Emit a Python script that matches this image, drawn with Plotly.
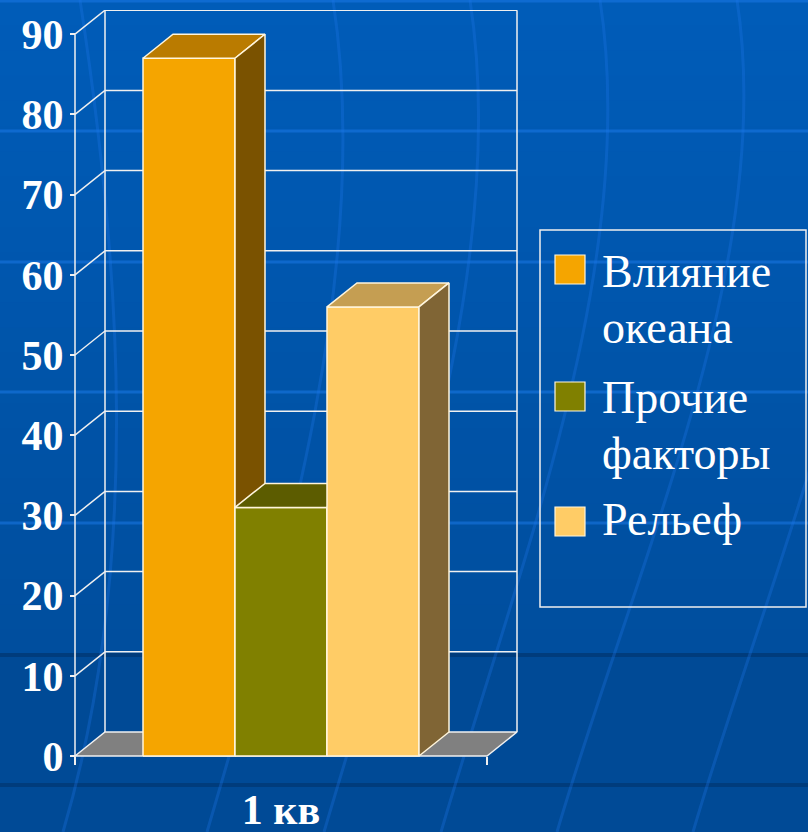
import plotly.graph_objects as go

# ---------------- data ----------------
categories = ["1 кв"]
series_names = ["Влияние океана", "Прочие факторы", "Рельеф"]
legend_labels = ["Влияние<br>океана", "Прочие<br>факторы", "Рельеф"]
values = [87, 31, 56]
y_ticks = [0, 10, 20, 30, 40, 50, 60, 70, 80, 90]
y_tick_labels = [str(v) for v in y_ticks]

front_colors = ["#F5A500", "#808000", "#FFCC66"]
top_colors = ["#BA7B00", "#5C5C00", "#C59E52"]
side_colors = ["#7A5200", "#404000", "#806535"]

# ---------------- layout geometry (style) ----------------
FIG_W, FIG_H = 808, 832
L, T, PW, PH = 68, 10, 450, 752
PX_X = 412.0          # pixels per x unit (front plane width)
PX_Y = 8.02           # pixels per value unit
X0_PX, Y0_PX = 75, 756
DX = 30 / PX_X        # oblique depth (x units)
DY = 24 / PX_Y        # oblique depth (value units)
BAR_W = 92 / PX_X
xr = [-(X0_PX - L) / PX_X, -(X0_PX - L) / PX_X + PW / PX_X]
yb = -(T + PH - Y0_PX) / PX_Y
yr = [yb, yb + PH / PX_Y]

EDGE = "#FFF5DC"
WALL = "#F0F0F0"
FONT = "Liberation Serif, Times New Roman, serif"


def px2paper(px, py):
    return (px - L) / PW, 1 - (py - T) / PH


fig = go.Figure()


def poly(xs, ys, fill, line_color, width=1.5):
    fig.add_trace(go.Scatter(
        x=xs + [xs[0]], y=ys + [ys[0]], mode="lines", fill="toself",
        fillcolor=fill, line=dict(color=line_color, width=width),
        hoverinfo="skip", showlegend=False))


top_v = max(y_ticks)

# floor
poly([0, 1, 1 + DX, DX], [0, 0, DY, DY], "#808080", WALL)

# back wall + gridlines
gx, gy = [], []
for v in y_ticks[1:]:
    gx += [DX, 1 + DX, None]
    gy += [v + DY, v + DY, None]
gx += [DX, DX, None, 1 + DX, 1 + DX, None]
gy += [DY, top_v + DY, None, DY, top_v + DY, None]
# left wall diagonals and front axis line
for v in y_ticks[1:]:
    gx += [0, DX, None]
    gy += [v, v + DY, None]
gx += [0, 0, None]
gy += [yb, top_v, None]
fig.add_trace(go.Scatter(x=gx, y=gy, mode="lines",
                         line=dict(color=WALL, width=1.5),
                         hoverinfo="skip", showlegend=False))

# bars (painter order, left to right)
n = len(series_names)
for i, (name, v) in enumerate(zip(series_names, values)):
    x0 = 0.5 + (i - n / 2) * BAR_W
    x1 = x0 + BAR_W
    poly([x0, x1, x1, x0], [0, 0, v, v], front_colors[i], EDGE)
    poly([x0, x1, x1 + DX, x0 + DX], [v, v, v + DY, v + DY], top_colors[i], EDGE)
    poly([x1, x1 + DX, x1 + DX, x1], [0, DY, v + DY, v], side_colors[i], EDGE)

# ---------------- background decoration ----------------
shapes = []
c_top = (0, 92, 184)
c_mid = (0, 78, 158)
c_bot = (0, 74, 150)
nb = 26
for k in range(nb):
    f = k / (nb - 1)
    c = tuple(round(a + (b - a) * f) for a, b in zip(c_top, c_mid))
    y0p = 655 * k / nb
    y1p = 655 * (k + 1) / nb + 1
    xa, ya = px2paper(0, y0p)
    xb, yb2 = px2paper(FIG_W, y1p)
    shapes.append(dict(type="rect", xref="paper", yref="paper", x0=xa, x1=xb,
                       y0=yb2, y1=ya, fillcolor="rgb(%d,%d,%d)" % c,
                       line=dict(width=0), layer="below"))
xa, ya = px2paper(0, 655)
xb, yb2 = px2paper(FIG_W, FIG_H)
shapes.append(dict(type="rect", xref="paper", yref="paper", x0=xa, x1=xb,
                   y0=yb2, y1=ya, fillcolor="rgb(%d,%d,%d)" % c_bot,
                   line=dict(width=0), layer="below"))


def hline(py, color, w):
    xa, ya = px2paper(0, py)
    xb, _ = px2paper(FIG_W, py)
    shapes.append(dict(type="line", xref="paper", yref="paper", x0=xa, x1=xb,
                       y0=ya, y1=ya, line=dict(color=color, width=w),
                       layer="below"))


for py in [1, 131, 262, 392, 523]:
    hline(py, "rgba(25,120,230,0.55)", 3)
for py in [655, 785]:
    hline(py, "#003C7C", 4)

curve_tops = [80, 333, 470, 600, 737, 870]
curve_bots = [63, 207, 324, 441, 557, 693]
for xt, xbt in zip(curve_tops, curve_bots):
    pts = [(xt, 0), (xt + 40, 260), (xbt + 80, 560), (xbt, FIG_H)]
    pp = [px2paper(a, b) for a, b in pts]
    path = "M %f,%f C %f,%f %f,%f %f,%f" % (pp[0] + pp[1] + pp[2] + pp[3])
    shapes.append(dict(type="path", xref="paper", yref="paper", path=path,
                       line=dict(color="rgba(30,120,235,0.30)", width=3),
                       layer="below"))

# ---------------- manual legend ----------------
annotations = []
bx0, by0 = px2paper(540, 230)
bx1, by1 = px2paper(806, 607)
shapes.append(dict(type="rect", xref="paper", yref="paper", x0=bx0, x1=bx1,
                   y0=by1, y1=by0, line=dict(color=WALL, width=1.5),
                   fillcolor="rgba(0,0,0,0)", layer="above"))
sw_tops = [255, 382, 507]
base_first = [287, 413, 535]
LEG_FS = 46
LINE_STEP = 56
for i, lab in enumerate(legend_labels):
    sx0, sy0 = px2paper(555, sw_tops[i])
    sx1, sy1 = px2paper(585, sw_tops[i] + 29)
    shapes.append(dict(type="rect", xref="paper", yref="paper", x0=sx0, x1=sx1,
                       y0=sy1, y1=sy0, fillcolor=front_colors[i],
                       line=dict(color=EDGE, width=1.2), layer="above"))
    for j, part in enumerate(lab.split("<br>")):
        bl = base_first[i] + j * LINE_STEP
        ax, ay = px2paper(600, bl - 0.34 * LEG_FS)
        annotations.append(dict(xref="paper", yref="paper", x=ax, y=ay,
                                text=part, showarrow=False, xanchor="left",
                                yanchor="middle",
                                font=dict(family=FONT, size=LEG_FS,
                                          color="white")))

fig.update_layout(
    width=FIG_W, height=FIG_H, autosize=False,
    margin=dict(l=L, r=FIG_W - L - PW, t=T, b=FIG_H - T - PH, pad=0,
                autoexpand=False),
    paper_bgcolor="#0052A6", plot_bgcolor="rgba(0,0,0,0)",
    showlegend=False,
    shapes=shapes, annotations=annotations,
    xaxis=dict(range=xr, anchor="free", position=1 - (Y0_PX - T) / PH,
               tickvals=[0.5], ticktext=categories, ticks="",
               minor=dict(tickvals=[0, 1], ticks="outside", ticklen=8,
                          tickwidth=2, tickcolor=WALL),
               showgrid=False, zeroline=False, showline=False,
               automargin=False, ticklabelstandoff=25,
               tickfont=dict(family=FONT, size=42, color="white",
                             weight="bold")),
    yaxis=dict(range=yr, anchor="free", position=(X0_PX - L) / PW,
               tickvals=y_ticks, ticktext=y_tick_labels,
               ticks="outside", ticklen=5, tickwidth=2, tickcolor=WALL,
               showgrid=False, zeroline=False, showline=False,
               automargin=False, ticklabelstandoff=-2,
               tickfont=dict(family=FONT, size=42, color="white",
                             weight="bold")),
)

fig.write_html("out.html", config={"displayModeBar": False},
               post_script="document.body.style.margin='0px';"
                           "document.body.style.background='#004A96';")
